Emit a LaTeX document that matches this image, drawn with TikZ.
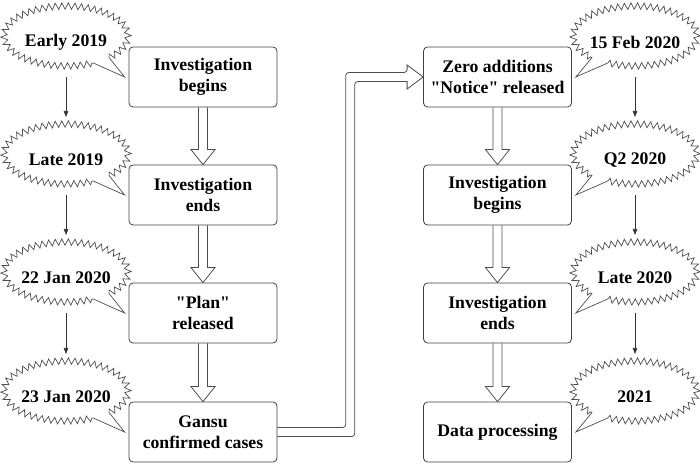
\documentclass[tikz,border=0pt]{standalone}
\usepackage{fontspec}
\setmainfont{Liberation Serif}[Ligatures=TeXOff]
\usetikzlibrary{calc,decorations.pathmorphing,arrows.meta}

\tikzset{
  box/.style={draw=black!75, line width=0.8pt, rounded corners=4pt,
    minimum width=148pt, minimum height=60pt, inner sep=0pt, align=center,
    font=\bfseries\fontsize{17.7}{21.5}\selectfont},
  datetext/.style={inner sep=0pt, font=\bfseries\fontsize{17.7}{21.5}\selectfont},
  bub/.style={draw=black!70, line width=0.7pt},
  zz/.style={decoration={zigzag, segment length=6.5pt, amplitude=3.2pt}},
  hollow/.style={draw=black!70, line width=0.8pt},
  thinarr/.style={draw=black!80, line width=0.6pt, -{Triangle[length=6pt,width=4.5pt]}},
}

\newcommand\leftbubble[2]{%
  \path (#1.center) ++(0,6pt) ++(-46:62pt and 30pt) coordinate (#1s);
  \draw[bub] decorate[zz]{(#1s) arc[start angle=-46, end angle=296, x radius=62pt, y radius=30pt]}
    -- ([xshift=-4pt]#2.west) -- cycle;
}
\newcommand\rightbubble[2]{%
  \path (#1.center) ++(0,6pt) ++(244:62pt and 30pt) coordinate (#1s);
  \draw[bub] decorate[zz]{(#1s) arc[start angle=244, end angle=586, x radius=62pt, y radius=30pt]}
    -- ([xshift=4pt]#2.east) -- cycle;
}
\newcommand\hollowdown[2]{%
  \draw[hollow] let \p1=(#1.south), \p2=(#2.north) in
    (\x1-4.5pt,\y1) -- (\x1-4.5pt,\y2+15pt) -- (\x1-12pt,\y2+15pt) -- (\x1,\y2)
    -- (\x1+12pt,\y2+15pt) -- (\x1+4.5pt,\y2+15pt) -- (\x1+4.5pt,\y1);
}

\begin{document}
\begin{tikzpicture}[x=1pt,y=1pt]
\useasboundingbox (0,0) rectangle (700,465);

% boxes
\node[box] (L1) at (203,388) {Investigation\\begins};
\node[box] (L2) at (203,270) {Investigation\\ends};
\node[box] (L3) at (203,152) {"Plan"\\released};
\node[box] (L4) at (203,33) {Gansu\\confirmed cases};
\node[box] (R1) at (497.5,388) {Zero additions\\"Notice" released};
\node[box] (R2) at (497.5,270) {Investigation\\begins};
\node[box] (R3) at (497.5,152) {Investigation\\ends};
\node[box] (R4) at (497.5,33) {Data processing};

% date texts
\node[datetext] (b1) at (66,423) {Early 2019};
\node[datetext] (b2) at (66,305) {Late 2019};
\node[datetext] (b3) at (66,187) {22 Jan 2020};
\node[datetext] (b4) at (66,68) {23 Jan 2020};
\node[datetext] (c1) at (635,423) {15 Feb 2020};
\node[datetext] (c2) at (635,305) {Q2 2020};
\node[datetext] (c3) at (635,187) {Late 2020};
\node[datetext] (c4) at (635,68) {2021};

% bubbles
\leftbubble{b1}{L1}
\leftbubble{b2}{L2}
\leftbubble{b3}{L3}
\leftbubble{b4}{L4}
\rightbubble{c1}{R1}
\rightbubble{c2}{R2}
\rightbubble{c3}{R3}
\rightbubble{c4}{R4}

% thin arrows between dates
\draw[thinarr] ([yshift=-35pt]b1.center) -- ([yshift=43pt]b2.center);
\draw[thinarr] ([yshift=-35pt]b2.center) -- ([yshift=43pt]b3.center);
\draw[thinarr] ([yshift=-35pt]b3.center) -- ([yshift=43pt]b4.center);
\draw[thinarr] ([yshift=-35pt]c1.center) -- ([yshift=43pt]c2.center);
\draw[thinarr] ([yshift=-35pt]c2.center) -- ([yshift=43pt]c3.center);
\draw[thinarr] ([yshift=-35pt]c3.center) -- ([yshift=43pt]c4.center);

% hollow arrows
\hollowdown{L1}{L2}
\hollowdown{L2}{L3}
\hollowdown{L3}{L4}
\hollowdown{R1}{R2}
\hollowdown{R2}{R3}
\hollowdown{R3}{R4}

% elbow hollow arrow
\draw[hollow] let \p1=(L4.east), \p2=(R1.west), \p3=($(L4.east)!0.5!(R1.west)$) in
  (\x1,\y1+4.5pt) [rounded corners=3pt] -- (\x3-4.5pt,\y1+4.5pt) -- (\x3-4.5pt,\y2+4.5pt)
  -- (\x2-16pt,\y2+4.5pt) [sharp corners] -- (\x2-16pt,\y2+12pt) -- (\x2,\y2)
  -- (\x2-16pt,\y2-12pt) -- (\x2-16pt,\y2-4.5pt) [rounded corners=3pt]
  -- (\x3+4.5pt,\y2-4.5pt) -- (\x3+4.5pt,\y1-4.5pt) [sharp corners] -- (\x1,\y1-4.5pt);
\end{tikzpicture}
\end{document}
